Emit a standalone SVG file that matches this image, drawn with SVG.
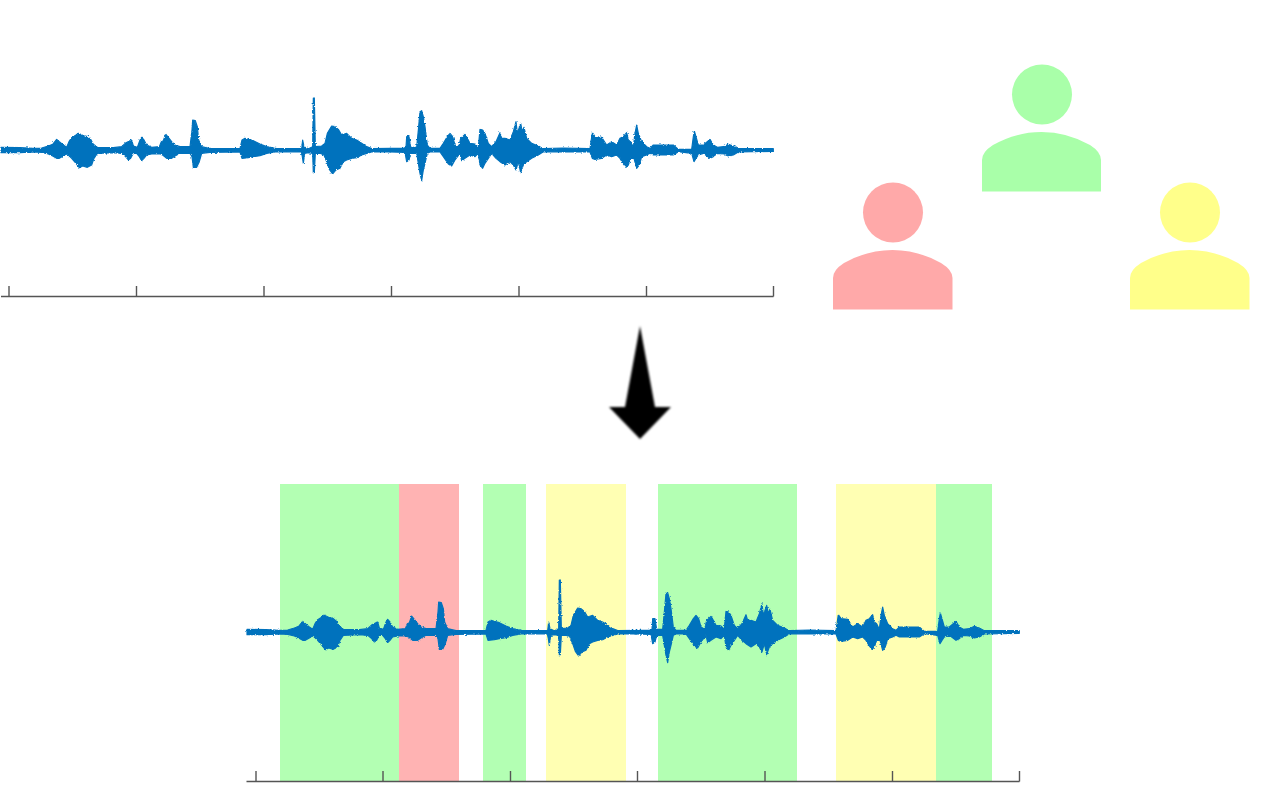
<svg xmlns="http://www.w3.org/2000/svg" width="1281" height="793" viewBox="0 0 1281 793">
<style>
.axis{stroke:#555;stroke-width:1.4;fill:none}
.wave{fill:#0072bd;stroke:#0072bd;stroke-width:3.5;stroke-linejoin:round}
.g{fill:#b3ffb3}.r{fill:#ffb3b3}.y{fill:#ffffb3}
</style>
<defs>
<filter id="soft" x="-20%" y="-20%" width="140%" height="140%"><feGaussianBlur stdDeviation="0.8"/></filter>
<filter id="rough" x="-2%" y="-20%" width="104%" height="140%"><feTurbulence type="fractalNoise" baseFrequency="0.5 0.9" numOctaves="2" seed="4"/><feDisplacementMap in="SourceGraphic" scale="2.6" xChannelSelector="R" yChannelSelector="G"/><feGaussianBlur stdDeviation="0.3"/></filter>
<g id="waveform">
<path class="wave" d="M3 172L60 173L100 175L125 174L145 168L158 163L170 148L178 155L190 165L200 172L207 155L215 143L228 135L235 130L248 136L262 140L272 148L280 163L292 172L340 173L365 170L378 158L390 152L395 150L400 168L412 172L420 150L425 142L432 150L440 165L455 172L478 170L484 155L490 152L497 132L505 142L515 155L525 165L540 170L570 170L576 120L578 90L586 92L592 110L596 150L605 170L630 176L720 175L726 150L735 145L745 148L760 152L780 162L800 170L830 176L905 176L908 150L912 170L925 176L938 170L940 24L943 24L946 170L965 168L975 160L982 130L995 108L1005 110L1015 118L1025 135L1040 130L1055 145L1070 150L1085 160L1100 170L1115 176L1172 175L1172 186L1115 186L1100 190L1085 195L1070 203L1055 205L1040 210L1030 215L1020 235L1008 240L998 252L988 238L980 215L972 195L960 190L946 190L943 248L940 248L938 190L925 188L914 190L910 220L907 200L904 186L830 185L800 190L780 197L760 200L745 203L726 205L720 186L630 187L605 190L598 215L590 232L580 232L576 200L570 190L540 190L525 198L515 205L500 205L488 195L478 192L455 192L440 195L432 205L425 212L418 200L410 190L400 190L392 205L385 210L375 198L365 190L340 188L292 190L282 205L275 225L262 232L248 228L238 233L228 220L215 205L205 195L198 192L190 198L178 205L170 205L158 198L145 192L125 187L100 186L60 188L3 188Z"/>
<path class="wave" transform="translate(1170,0)" d="M0 175L40 175L48 172L50 140L57 140L62 172L80 172L85 120L90 65L95 62L100 80L105 110L112 165L120 175L150 175L160 160L172 140L180 130L188 140L195 165L206 172L212 145L218 140L225 133L232 145L240 160L255 162L265 172L270 118L278 120L285 130L295 160L305 170L318 155L330 128L335 145L345 145L360 150L370 125L378 95L382 130L392 100L397 125L402 112L410 145L425 160L445 168L460 176L520 174L600 176L607 128L615 140L635 142L650 165L665 155L680 165L690 145L700 140L710 128L715 150L722 155L730 172L735 130L740 105L745 130L755 155L770 170L780 175L790 165L850 165L865 178L905 178L910 140L913 123L918 140L925 165L940 165L960 148L970 165L982 172L1000 170L1015 163L1030 168L1045 176L1150 176L1150 184L1045 186L1030 195L1015 198L1000 192L982 190L970 200L960 205L940 190L925 195L918 205L912 215L905 190L865 185L850 195L790 195L780 190L770 195L755 200L748 225L740 235L732 205L722 205L715 225L708 232L700 222L690 205L680 195L665 200L650 195L635 205L615 208L607 205L600 186L520 186L460 185L445 195L425 205L410 215L400 225L392 248L385 215L378 240L370 225L360 215L345 225L330 215L318 205L305 190L295 205L285 220L278 235L270 225L265 190L255 200L240 195L225 205L215 212L210 190L195 210L185 228L175 222L160 200L150 186L120 186L112 190L105 220L100 240L95 272L90 250L85 220L80 190L62 190L57 210L50 215L45 187L0 186Z"/>
</g>
</defs>
<rect width="1281" height="793" fill="#fff"/>
<g id="waveform-top" filter="url(#rough)"><use href="#waveform" transform="translate(0,90) scale(.33333)"/></g>
<g id="axis-top" class="axis">
<path d="M1 296.500H773.500M9 286V296.500M136.500 286V296.500M264 286V296.500M391.500 286V296.500M519 286V296.500M646.500 286V296.500M773.500 286V296.500"/>
</g>
<g id="speaker-green" fill="#a9ffa9">
<circle cx="1042" cy="94.500" r="30"/>
<path d="M982 191.500V160Q982 152 993 145Q1016 132 1041.500 132Q1067 132 1090 145Q1101 152 1101 160V191.500Z"/>
</g>
<g id="speaker-red" fill="#ffa9a9">
<circle cx="893" cy="212.500" r="30"/>
<path d="M833 309.500V278Q833 270 844 263Q867 250 892.500 250Q918 250 941 263Q952.500 270 952.500 278V309.500Z"/>
</g>
<g id="speaker-yellow" fill="#ffff8a">
<circle cx="1190" cy="212.500" r="30"/>
<path d="M1130 309.500V278Q1130 270 1141 263Q1164 250 1189.500 250Q1215 250 1238 263Q1249.500 270 1249.500 278V309.500Z"/>
</g>
<g id="connectors">
<path id="arrow" d="M640 326L625 407H609L640 439L671 407H655Z" fill="#000" filter="url(#soft)"/>
</g>
<g id="segments">
<rect class="g" x="280" y="484" width="119" height="297"/>
<rect class="r" x="399" y="484" width="60" height="297"/>
<rect class="g" x="483" y="484" width="43" height="297"/>
<rect class="y" x="546" y="484" width="80" height="297"/>
<rect class="g" x="658" y="484" width="139" height="297"/>
<rect class="y" x="836" y="484" width="100" height="297"/>
<rect class="g" x="936" y="484" width="56" height="297"/>
</g>
<g id="waveform-bottom" filter="url(#rough)"><use href="#waveform" transform="translate(246,572) scale(.33333)"/></g>
<g id="axis-bottom" class="axis">
<path d="M246.500 781.500H1019.500M256 771V781.500M383 771V781.500M510.500 771V781.500M637.500 771V781.500M765 771V781.500M892.500 771V781.500M1019.500 771V781.500"/>
</g>
</svg>
